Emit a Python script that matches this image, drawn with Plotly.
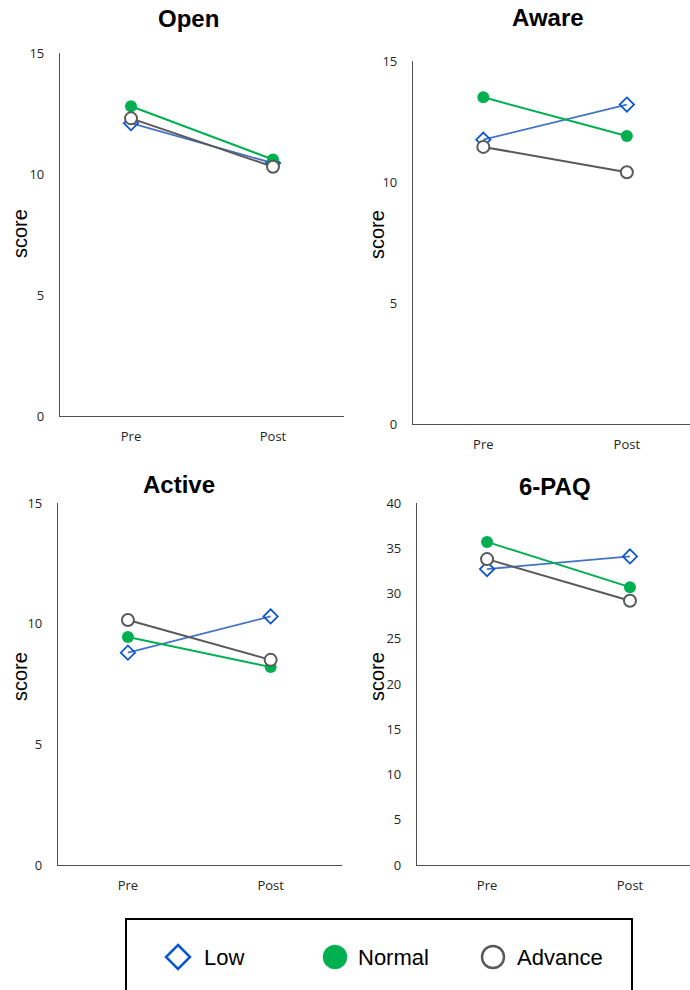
import plotly.graph_objects as go

W, H = 690, 990

categories = ["Pre", "Post"]
groups = ["Low", "Normal", "Advance"]

open_low = [12.1, 10.45]
open_normal = [12.8, 10.6]
open_adv = [12.3, 10.3]

aware_low = [11.75, 13.2]
aware_normal = [13.5, 11.9]
aware_adv = [11.45, 10.4]

active_low = [8.8, 10.3]
active_normal = [9.45, 8.2]
active_adv = [10.15, 8.5]

paq_low = [32.7, 34.1]
paq_normal = [35.7, 30.7]
paq_adv = [33.8, 29.2]

panel_titles = ["Open", "Aware", "Active", "6-PAQ"]
y_title = "score"

BLUE_LINE = "#4472C4"
BLUE_MK = "#0A56D0"
GREEN = "#00B050"
GREY = "#595959"
AXIS = "#505050"
FONT = "Liberation Sans, Arial, sans-serif"
TICKFONT = dict(family="Open Sans, sans-serif", size=13, color="#262626")

styles = {
    "Low": dict(line=dict(color=BLUE_LINE, width=1.8),
                marker=dict(symbol="diamond-open", size=11, color=BLUE_MK, line=dict(width=1.8, color=BLUE_MK))),
    "Normal": dict(line=dict(color=GREEN, width=2),
                   marker=dict(symbol="circle", size=12, color=GREEN, line=dict(width=0))),
    "Advance": dict(line=dict(color=GREY, width=2),
                    marker=dict(symbol="circle", size=12, color="white", line=dict(width=2, color=GREY))),
}

panels = [
    (open_low, open_normal, open_adv),
    (aware_low, aware_normal, aware_adv),
    (active_low, active_normal, active_adv),
    (paq_low, paq_normal, paq_adv),
]

fig = go.Figure()

for i, series in enumerate(panels):
    ax = "" if i == 0 else str(i + 1)
    for g, vals in zip(groups, series):
        st = styles[g]
        fig.add_trace(go.Scatter(
            x=categories, y=vals, mode="lines+markers", name=g,
            line=st["line"], marker=st["marker"], showlegend=False,
            xaxis="x" + ax, yaxis="y" + ax, cliponaxis=False,
        ))


def fx(p):
    return p / W


def fy(p):
    return 1 - p / H


# pixel geometry: (x_axis_left, x_axis_right, y_top, y_bottom, xrange, yrange, dtick)
geo = [
    (60, 344, 53, 416, [-0.5, 1.5], [0, 15], 5),
    (413, 690, 61, 424, [-0.49, 1.44], [0, 15], 5),
    (58, 342, 503, 865, [-0.49, 1.5], [0, 15], 5),
    (417, 690, 503, 865, [-0.49, 1.42], [0, 40], 5),
]

layout = dict(
    width=W, height=H, margin=dict(l=0, r=0, t=0, b=0, pad=0, autoexpand=False),
    paper_bgcolor="white", plot_bgcolor="white",
    font=dict(family=FONT, color="black"),
    showlegend=False,
)

for i, (x0, x1, yt, yb, xr, yr, dt) in enumerate(geo):
    k = "" if i == 0 else str(i + 1)
    layout["xaxis" + k] = dict(
        domain=[fx(x0), fx(x1)], anchor="y" + k, type="category", range=xr,
        showline=True, linecolor=AXIS, linewidth=1.3, showgrid=False, zeroline=False,
        ticks="", tickfont=TICKFONT, ticklabelstandoff=8, fixedrange=True, automargin=False,
    )
    layout["yaxis" + k] = dict(
        domain=[fy(yb), fy(yt)], anchor="x" + k, range=yr, dtick=dt, tick0=0,
        showline=True, linecolor=AXIS, linewidth=1.3, showgrid=False, zeroline=False,
        ticks="", tickfont=TICKFONT, ticklabelstandoff=12, fixedrange=True, automargin=False,
    )

fig.update_layout(**layout)

title_pos = [(189, 18), (548, 17), (179, 485), (555, 486)]
score_pos = [(20, 234), (377, 235), (20, 677), (377, 677)]
for t, (tx, ty), (sx, sy) in zip(panel_titles, title_pos, score_pos):
    fig.add_annotation(text="<b>%s</b>" % t, x=fx(tx), y=fy(ty), xref="paper", yref="paper",
                       xanchor="center", yanchor="middle", showarrow=False,
                       font=dict(family=FONT, size=24, color="black"))
    fig.add_annotation(text=y_title, x=fx(sx), y=fy(sy), xref="paper", yref="paper",
                       xanchor="center", yanchor="middle", showarrow=False, textangle=-90,
                       font=dict(family=FONT, size=20, color="black"))

# legend frame (extends past the bottom edge, as in the reference)
fig.add_shape(type="rect", xref="paper", yref="paper",
              x0=fx(126), x1=fx(632), y0=fy(1010), y1=fy(919),
              line=dict(color="black", width=2), fillcolor="rgba(0,0,0,0)", layer="above")

# legend keys: symbol centre x, text start x
legend_cy = 957
legend_keys = [(178, 202), (335, 356), (493, 515)]
R = 12
for g, (cx, tx) in zip(groups, legend_keys):
    if g == "Low":
        path = "M %f,%f L %f,%f L %f,%f L %f,%f Z" % (
            fx(cx), fy(legend_cy - R), fx(cx + R), fy(legend_cy),
            fx(cx), fy(legend_cy + R), fx(cx - R), fy(legend_cy))
        fig.add_shape(type="path", xref="paper", yref="paper", path=path,
                      line=dict(color=BLUE_MK, width=2.5), fillcolor="white")
    elif g == "Normal":
        fig.add_shape(type="circle", xref="paper", yref="paper",
                      x0=fx(cx - R), x1=fx(cx + R), y0=fy(legend_cy + R), y1=fy(legend_cy - R),
                      line=dict(color=GREEN, width=0.5), fillcolor=GREEN)
    else:
        fig.add_shape(type="circle", xref="paper", yref="paper",
                      x0=fx(cx - R + 1), x1=fx(cx + R - 1), y0=fy(legend_cy + R - 1), y1=fy(legend_cy - R + 1),
                      line=dict(color=GREY, width=2.5), fillcolor="white")
    fig.add_annotation(text=g, x=fx(tx), y=fy(legend_cy), xref="paper", yref="paper",
                       xanchor="left", yanchor="middle", showarrow=False,
                       font=dict(family=FONT, size=22, color="black"))

fig.write_html("out.html")
